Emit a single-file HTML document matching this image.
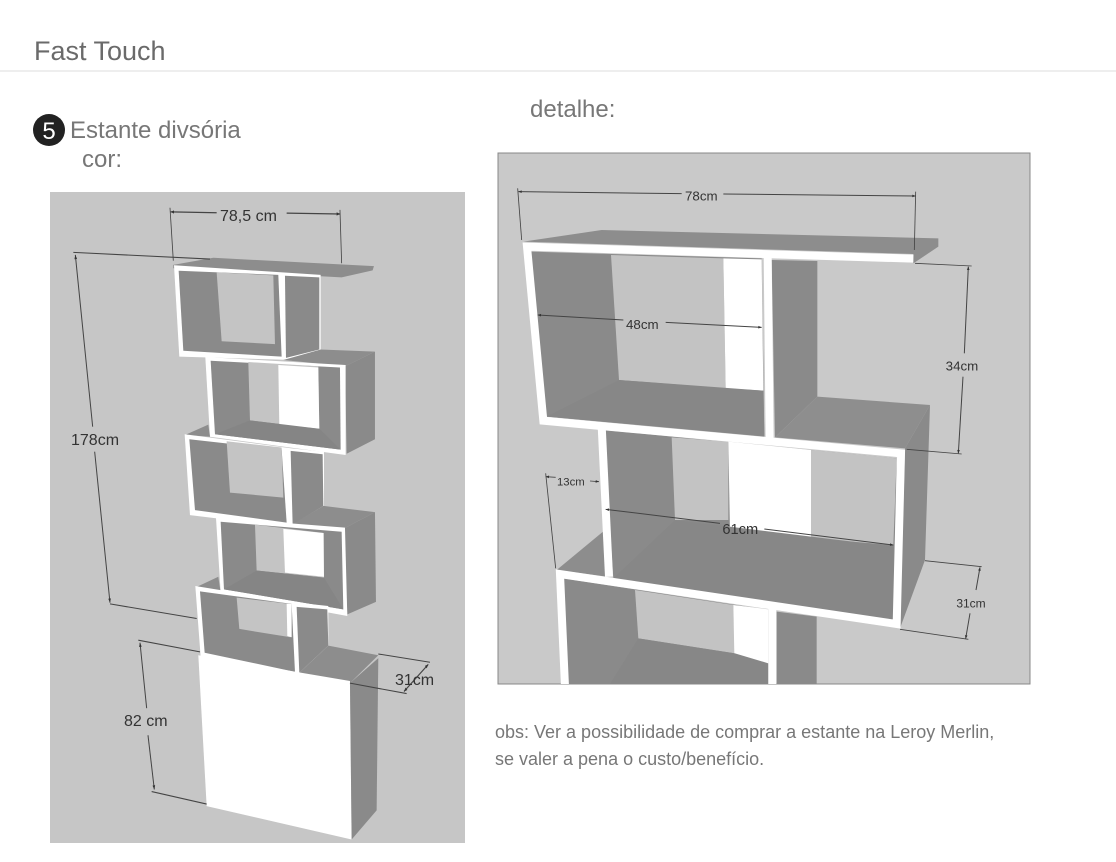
<!DOCTYPE html>
<html><head><meta charset="utf-8"><style>
html,body{margin:0;padding:0;background:#fff;}
body{width:1116px;height:862px;position:relative;overflow:hidden;font-family:"Liberation Sans",sans-serif;}
</style></head><body>
<svg width="1116" height="862" viewBox="0 0 1116 862" xmlns="http://www.w3.org/2000/svg" style="position:absolute;left:0;top:0">
<defs>
<marker id="ar" viewBox="0 0 10 10" refX="10" refY="5" markerWidth="14" markerHeight="10" markerUnits="userSpaceOnUse" orient="auto-start-reverse"><path d="M0,1 L10,5 L0,9 z" fill="#333"/></marker>
</defs>
<g font-family="Liberation Sans, sans-serif" fill="#666">
<text x="34" y="60" font-size="27" fill="#6a6a6a">Fast Touch</text>
<line x1="0" y1="71" x2="1116" y2="71" stroke="#ddd" stroke-width="1"/>
<circle cx="49" cy="130" r="16" fill="#222"/>
<text x="49" y="139" font-size="24" fill="#fff" text-anchor="middle">5</text>
<text x="70" y="138" font-size="24" fill="#777">Estante divsória</text>
<text x="82" y="167" font-size="24" fill="#777">cor:</text>
<text x="530" y="117" font-size="24" fill="#777">detalhe:</text>
<text x="495" y="738" font-size="18" fill="#777">obs: Ver a possibilidade de comprar a estante na Leroy Merlin,</text>
<text x="495" y="765" font-size="18" fill="#777">se valer a pena o custo/benefício.</text>
</g>

<!-- LEFT PANEL -->
<rect x="50" y="192" width="415" height="651" fill="#c6c6c6"/>
<g transform="translate(50,189) scale(0.3333,0.417)" stroke="none">
<polygon points="370,182 490,165 972,185 968,195 875,212 370,190" fill="#8d8d8d"/>
<polygon points="372,183 812,206 812,412 388,402" fill="#fff"/>
<polygon points="386,196 685,206 695,402 400,388" fill="#8a8a8a"/>
<polygon points="500,200 670,207 675,372 515,365" fill="#c4c4c4"/>
<polygon points="705,208 808,212 808,385 708,405" fill="#8a8a8a"/>
<polygon points="700,410 812,385 975,390 885,425" fill="#8d8d8d"/>
<polygon points="885,425 975,390 975,600 890,635" fill="#8a8a8a"/>
<polygon points="466,403 887,422 887,638 480,594" fill="#fff"/>
<polygon points="482,412 870,428 872,625 495,588" fill="#8a8a8a"/>
<polygon points="595,415 805,425 808,575 600,555" fill="#c4c4c4"/>
<polygon points="685,422 805,428 808,575 688,565" fill="#fff"/>
<polygon points="495,588 600,555 808,575 872,625" fill="#858585"/>
<polygon points="405,590 475,565 480,594" fill="#8d8d8d"/>
<polygon points="404,588 725,622 822,630 822,770 730,812 420,782" fill="#fff"/>
<polygon points="418,600 695,625 710,800 435,770" fill="#8a8a8a"/>
<polygon points="530,605 695,620 700,740 540,728" fill="#c4c4c4"/>
<polygon points="722,628 818,636 820,760 728,805" fill="#8a8a8a"/>
<polygon points="725,805 820,760 975,775 880,815" fill="#8d8d8d"/>
<polygon points="880,815 975,775 978,990 892,1020" fill="#8a8a8a"/>
<polygon points="498,788 885,812 892,1024 512,968" fill="#fff"/>
<polygon points="512,798 875,822 880,1008 522,960" fill="#8a8a8a"/>
<polygon points="615,805 822,825 822,932 620,915" fill="#c4c4c4"/>
<polygon points="700,815 820,825 822,930 705,920" fill="#fff"/>
<polygon points="522,960 620,915 822,932 880,1008" fill="#858585"/>
<polygon points="438,955 505,930 512,968" fill="#8d8d8d"/>
<polygon points="436,952 740,992 835,1000 835,1100 740,1170 452,1122" fill="#fff"/>
<polygon points="450,965 725,995 735,1158 464,1112" fill="#8a8a8a"/>
<polygon points="560,980 720,995 722,1075 568,1055" fill="#c4c4c4"/>
<polygon points="710,995 725,995 725,1075 712,1072" fill="#fff"/>
<polygon points="740,1002 832,1008 835,1095 748,1160" fill="#8a8a8a"/>
<polygon points="748,1160 835,1095 985,1118 900,1185" fill="#8d8d8d"/>
<polygon points="445,1118 900,1180 905,1560 470,1480" fill="#fff"/>
<polygon points="900,1185 985,1125 980,1490 905,1560" fill="#8a8a8a"/>
<g stroke="#444" stroke-width="2.5" fill="none">
<line x1="360" y1="45" x2="370" y2="172"/>
<line x1="870" y1="50" x2="875" y2="178"/>
<line x1="362" y1="55" x2="500" y2="57" marker-start="url(#ar)" stroke-width="3"/>
<line x1="710" y1="58" x2="870" y2="60" marker-end="url(#ar)" stroke-width="3"/>
<line x1="70" y1="152" x2="480" y2="168"/>
<line x1="180" y1="995" x2="440" y2="1030"/>
<line x1="76" y1="158" x2="128" y2="570" marker-start="url(#ar)" stroke-width="3"/>
<line x1="134" y1="630" x2="180" y2="992" marker-end="url(#ar)" stroke-width="3"/>
<line x1="265" y1="1082" x2="450" y2="1110"/>
<line x1="305" y1="1445" x2="470" y2="1475"/>
<line x1="270" y1="1088" x2="290" y2="1245" marker-start="url(#ar)" stroke-width="3"/>
<line x1="294" y1="1310" x2="313" y2="1440" marker-end="url(#ar)" stroke-width="3"/>
<line x1="985" y1="1115" x2="1140" y2="1135"/>
<line x1="900" y1="1185" x2="1070" y2="1210"/>
<line x1="1135" y1="1140" x2="1062" y2="1205" marker-start="url(#ar)" marker-end="url(#ar)" stroke-width="3"/>
</g>
</g>
<g font-size="16" fill="#333" font-family="Liberation Sans, sans-serif">
<text x="220" y="221">78,5 cm</text>
<text x="71" y="445">178cm</text>
<text x="124" y="726">82 cm</text>
<text x="395" y="685">31cm</text>
</g>

<!-- RIGHT PANEL -->
<rect x="498" y="153" width="532" height="531" fill="#c9c9c9" stroke="#888" stroke-width="1"/>
<svg x="498" y="153" width="532" height="531" viewBox="9 9 1596 1593">
<g>
<polygon points="108,305 800,325 808,860 155,800" fill="#8a8a8a"/>
<polygon points="348,315 685,325 692,715 372,690" fill="#c3c3c3"/>
<polygon points="685,325 800,328 805,722 692,715" fill="#fff"/>
<polygon points="155,800 372,690 805,722 808,858" fill="#878787"/>
<polygon points="830,330 967,333 967,740 840,862" fill="#8a8a8a"/>
<polygon points="840,862 967,740 1305,765 1230,895" fill="#8e8e8e"/>
<polygon points="1230,895 1305,765 1290,1230 1215,1435" fill="#8a8a8a"/>
<polygon points="325,840 1205,925 1195,1410 355,1285" fill="#8a8a8a"/>
<polygon points="530,862 700,875 700,1110 540,1110" fill="#c3c3c3"/>
<polygon points="700,875 948,900 948,1165 705,1150" fill="#fff"/>
<polygon points="948,900 1205,925 1195,1185 948,1165" fill="#c3c3c3"/>
<polygon points="355,1285 540,1110 1195,1190 1195,1410" fill="#878787"/>
<polygon points="185,1260 330,1140 335,1280" fill="#8d8d8d"/>
<polygon points="205,1285 820,1380 820,1610 215,1610" fill="#8a8a8a"/>
<polygon points="420,1320 715,1365 720,1510 430,1465" fill="#c3c3c3"/>
<polygon points="715,1365 820,1378 820,1610 720,1610" fill="#fff"/>
<polygon points="430,1465 720,1510 820,1540 820,1610 340,1610" fill="#878787"/>
<polygon points="845,1385 965,1400 965,1610 845,1610" fill="#8a8a8a"/>
<polygon points="85,275 320,240 1330,265 1330,290 1255,340 1255,312" fill="#8d8d8d"/>
<g stroke="#fff" stroke-width="24" fill="none" stroke-linejoin="miter">
<polyline points="1255,326 96,290 145,812 318,828 1218,910 1205,1422 195,1272 210,1610"/>
<line x1="818" y1="318" x2="824" y2="872"/>
<line x1="320" y1="828" x2="342" y2="1280"/>
<line x1="832" y1="1375" x2="832" y2="1610"/>
</g>
<g stroke="#444" stroke-width="2.5" fill="none">
<line x1="68" y1="115" x2="80" y2="270"/>
<line x1="1262" y1="125" x2="1258" y2="300"/>
<line x1="70" y1="125" x2="560" y2="131" marker-start="url(#ar)" stroke-width="3"/>
<line x1="685" y1="132" x2="1262" y2="138" marker-end="url(#ar)" stroke-width="3"/>
<line x1="128" y1="495" x2="385" y2="510" marker-start="url(#ar)" stroke-width="3"/>
<line x1="512" y1="517" x2="800" y2="532" marker-end="url(#ar)" stroke-width="3"/>
<line x1="1260" y1="340" x2="1430" y2="348"/>
<line x1="1235" y1="898" x2="1400" y2="912"/>
<line x1="1420" y1="350" x2="1408" y2="610" marker-start="url(#ar)" stroke-width="3"/>
<line x1="1404" y1="680" x2="1390" y2="910" marker-end="url(#ar)" stroke-width="3"/>
<line x1="152" y1="970" x2="182" y2="1255"/>
<line x1="152" y1="980" x2="182" y2="982" marker-start="url(#ar)"/>
<line x1="285" y1="993" x2="312" y2="995" marker-end="url(#ar)"/>
<line x1="332" y1="1078" x2="675" y2="1120" marker-start="url(#ar)" stroke-width="3"/>
<line x1="808" y1="1137" x2="1195" y2="1185" marker-end="url(#ar)" stroke-width="3"/>
<line x1="1290" y1="1232" x2="1460" y2="1250"/>
<line x1="1215" y1="1438" x2="1420" y2="1468"/>
<line x1="1455" y1="1252" x2="1443" y2="1320" marker-start="url(#ar)" stroke-width="3"/>
<line x1="1425" y1="1390" x2="1412" y2="1466" marker-end="url(#ar)" stroke-width="3"/>
</g>
<g font-size="40" fill="#333" font-family="Liberation Sans, sans-serif">
<text x="570" y="152">78cm</text>
<text x="393" y="537">48cm</text>
<text x="1352" y="662">34cm</text>
<text x="186" y="1007" font-size="34">13cm</text>
<text x="682" y="1152" font-size="44">61cm</text>
<text x="1384" y="1372" font-size="36">31cm</text>
</g>
</g>
</svg>
</svg>
</body></html>
